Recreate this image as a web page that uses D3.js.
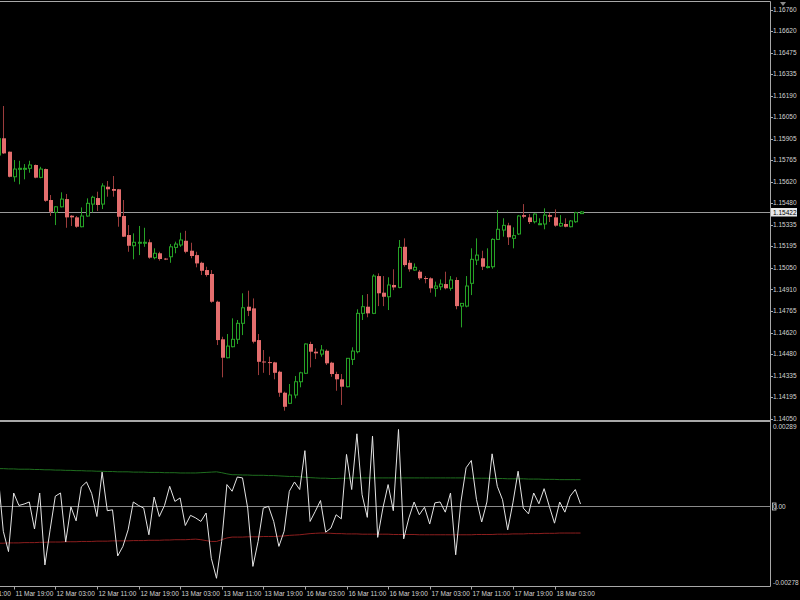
<!DOCTYPE html>
<html><head><meta charset="utf-8">
<script src="https://cdn.jsdelivr.net/npm/d3@7/dist/d3.min.js"></script>
<style>html,body{margin:0;padding:0;background:#000;overflow:hidden}</style>
</head><body>
<svg id="c" width="800" height="600"></svg>
<script>
// Bars: H1, first bar = 11 Mar 16:00 (index -1), last = 18 Mar 08:00 (index 111)
const firstBarIndex = -1;
const open = [1.15799,1.15910,1.15821,1.15655,1.15704,1.15709,1.15711,1.15733,1.15651,1.15706,1.15501,1.15419,1.15456,1.15507,1.15397,1.15386,1.15324,1.15395,1.15474,1.15514,1.15474,1.15589,1.15574,1.15572,1.15395,1.15269,1.15198,1.15219,1.15219,1.15221,1.15119,1.15148,1.15113,1.15125,1.15187,1.15203,1.15231,1.15165,1.15136,1.15085,1.15037,1.15011,1.14827,1.14578,1.14456,1.14529,1.14578,1.14684,1.14794,1.14783,1.14573,1.14431,1.14427,1.14425,1.14363,1.14224,1.14154,1.14209,1.14297,1.14353,1.14547,1.14496,1.14480,1.14502,1.14423,1.14348,1.14313,1.14264,1.14445,1.14496,1.14750,1.14794,1.14750,1.14997,1.14887,1.14860,1.14938,1.14922,1.15191,1.15085,1.15037,1.15026,1.14984,1.14982,1.14916,1.14926,1.14944,1.14916,1.14971,1.14798,1.14798,1.14949,1.15103,1.15115,1.15057,1.15059,1.15240,1.15302,1.15333,1.15247,1.15276,1.15401,1.15386,1.15357,1.15340,1.15342,1.15401,1.15386,1.15329,1.15342,1.15324,1.15357,1.15411];
const high = [1.15931,1.16124,1.15822,1.15766,1.15761,1.15739,1.15761,1.15736,1.15721,1.15709,1.15534,1.15461,1.15552,1.15541,1.15401,1.15395,1.15452,1.15512,1.15529,1.15556,1.15612,1.15627,1.15660,1.15574,1.15501,1.15335,1.15280,1.15329,1.15317,1.15240,1.15181,1.15158,1.15117,1.15209,1.15225,1.15284,1.15297,1.15218,1.15158,1.15092,1.15059,1.15037,1.14834,1.14595,1.14613,1.14717,1.14706,1.14883,1.14900,1.14849,1.14613,1.14507,1.14463,1.14429,1.14370,1.14231,1.14282,1.14335,1.14363,1.14551,1.14562,1.14518,1.14540,1.14511,1.14429,1.14363,1.14348,1.14454,1.14525,1.14777,1.14871,1.14878,1.15009,1.15015,1.14997,1.14989,1.15042,1.15236,1.15247,1.15103,1.15081,1.15037,1.14997,1.14989,1.14960,1.14975,1.15026,1.14997,1.14989,1.14818,1.14997,1.15181,1.15247,1.15165,1.15181,1.15247,1.15435,1.15380,1.15350,1.15320,1.15401,1.15474,1.15408,1.15413,1.15380,1.15446,1.15417,1.15439,1.15401,1.15380,1.15368,1.15423,1.15428];
const low = [1.15786,1.15806,1.15651,1.15622,1.15605,1.15638,1.15682,1.15645,1.15645,1.15489,1.15395,1.15335,1.15452,1.15317,1.15329,1.15317,1.15320,1.15390,1.15419,1.15428,1.15441,1.15523,1.15523,1.15324,1.15256,1.15158,1.15108,1.15136,1.15191,1.15112,1.15108,1.15099,1.15103,1.15085,1.15148,1.15191,1.15148,1.15115,1.15055,1.15004,1.14993,1.14820,1.14540,1.14326,1.14452,1.14525,1.14547,1.14606,1.14732,1.14551,1.14341,1.14356,1.14341,1.14313,1.14197,1.14105,1.14149,1.14187,1.14260,1.14348,1.14392,1.14447,1.14463,1.14408,1.14330,1.14237,1.14143,1.14260,1.14408,1.14485,1.14706,1.14724,1.14745,1.14798,1.14798,1.14772,1.14904,1.14916,1.15059,1.15026,1.15032,1.14971,1.14949,1.14887,1.14860,1.14904,1.14909,1.14900,1.14777,1.14657,1.14790,1.14871,1.15070,1.15037,1.15048,1.15046,1.15236,1.15258,1.15203,1.15181,1.15269,1.15380,1.15342,1.15346,1.15335,1.15307,1.15355,1.15324,1.15324,1.15320,1.15320,1.15350,1.15408];
const close = [1.15908,1.15810,1.15655,1.15706,1.15711,1.15711,1.15733,1.15649,1.15706,1.15496,1.15423,1.15456,1.15507,1.15386,1.15386,1.15324,1.15395,1.15479,1.15519,1.15468,1.15594,1.15572,1.15562,1.15390,1.15258,1.15198,1.15221,1.15221,1.15221,1.15119,1.15148,1.15110,1.15110,1.15191,1.15209,1.15236,1.15158,1.15130,1.15081,1.15032,1.15004,1.14827,1.14573,1.14456,1.14533,1.14578,1.14684,1.14787,1.14767,1.14562,1.14429,1.14429,1.14426,1.14356,1.14224,1.14131,1.14209,1.14297,1.14356,1.14547,1.14496,1.14485,1.14507,1.14419,1.14348,1.14313,1.14264,1.14452,1.14500,1.14750,1.14794,1.14750,1.14997,1.14883,1.14860,1.14938,1.14922,1.15187,1.15070,1.15042,1.15055,1.14982,1.14981,1.14916,1.14931,1.14944,1.14916,1.14971,1.14798,1.14816,1.14931,1.15108,1.15136,1.15059,1.15060,1.15240,1.15307,1.15333,1.15254,1.15265,1.15395,1.15390,1.15355,1.15408,1.15344,1.15401,1.15390,1.15331,1.15346,1.15324,1.15362,1.15417,1.15422];
// Indicator (white line) per bar
const momentum = [0.00109,-0.00086,-0.00156,0.00046,0.00003,0.00008,0.00015,-0.00078,0.00046,-0.00202,-0.00081,0.00035,0.00046,-0.00123,-0.00002,-0.00050,0.00067,0.00084,0.00044,-0.00035,0.00118,-0.00015,-0.00012,-0.00171,-0.00138,-0.00081,0.00015,0.00003,-0.00006,-0.00098,0.00032,-0.00035,0.00003,0.00069,0.00017,0.00029,-0.00066,-0.00031,-0.00040,-0.00052,-0.00023,-0.00179,-0.00248,-0.00121,0.00075,0.00052,0.00101,0.00098,-0.00006,-0.00207,-0.00121,-0.00006,0.00000,-0.00052,-0.00138,-0.00086,0.00052,0.00084,0.00058,0.00192,-0.00052,-0.00017,0.00020,-0.00089,-0.00075,-0.00029,-0.00043,0.00179,0.00058,0.00250,0.00040,-0.00038,0.00242,-0.00107,-0.00006,0.00075,-0.00015,0.00265,-0.00112,-0.00040,0.00015,-0.00029,-0.00003,-0.00061,0.00012,0.00015,-0.00020,0.00046,-0.00167,0.00015,0.00133,0.00158,0.00023,-0.00054,0.00015,0.00181,0.00069,0.00023,-0.00081,0.00012,0.00121,-0.00006,-0.00026,0.00046,0.00009,0.00061,0.00000,-0.00058,0.00015,-0.00020,0.00035,0.00058,0.00008];
const upperBand = [0.00130,0.00130,0.00129,0.00129,0.00128,0.00128,0.00128,0.00127,0.00127,0.00126,0.00126,0.00125,0.00125,0.00124,0.00124,0.00123,0.00123,0.00122,0.00122,0.00121,0.00121,0.00120,0.00120,0.00119,0.00119,0.00119,0.00118,0.00118,0.00118,0.00117,0.00117,0.00117,0.00116,0.00116,0.00116,0.00115,0.00115,0.00115,0.00115,0.00116,0.00117,0.00118,0.00119,0.00116,0.00112,0.00109,0.00109,0.00108,0.00108,0.00107,0.00107,0.00107,0.00106,0.00106,0.00105,0.00104,0.00103,0.00103,0.00102,0.00100,0.00099,0.00098,0.00097,0.00097,0.00096,0.00096,0.00097,0.00097,0.00098,0.00098,0.00098,0.00098,0.00098,0.00098,0.00098,0.00098,0.00098,0.00098,0.00098,0.00098,0.00098,0.00098,0.00098,0.00098,0.00098,0.00098,0.00098,0.00098,0.00098,0.00098,0.00098,0.00097,0.00097,0.00097,0.00097,0.00096,0.00096,0.00096,0.00095,0.00095,0.00095,0.00095,0.00094,0.00094,0.00094,0.00093,0.00093,0.00093,0.00092,0.00092,0.00092,0.00092,0.00092];
const lowerBand = [-0.00127,-0.00127,-0.00126,-0.00126,-0.00126,-0.00125,-0.00125,-0.00125,-0.00124,-0.00124,-0.00123,-0.00123,-0.00123,-0.00122,-0.00122,-0.00122,-0.00121,-0.00121,-0.00121,-0.00120,-0.00120,-0.00120,-0.00119,-0.00119,-0.00119,-0.00119,-0.00118,-0.00118,-0.00118,-0.00117,-0.00117,-0.00117,-0.00116,-0.00116,-0.00115,-0.00115,-0.00115,-0.00114,-0.00113,-0.00115,-0.00118,-0.00121,-0.00121,-0.00115,-0.00109,-0.00106,-0.00106,-0.00106,-0.00105,-0.00105,-0.00105,-0.00104,-0.00104,-0.00104,-0.00103,-0.00102,-0.00100,-0.00099,-0.00098,-0.00096,-0.00094,-0.00093,-0.00092,-0.00092,-0.00093,-0.00094,-0.00094,-0.00095,-0.00095,-0.00095,-0.00096,-0.00096,-0.00096,-0.00096,-0.00096,-0.00096,-0.00097,-0.00097,-0.00097,-0.00097,-0.00097,-0.00098,-0.00098,-0.00098,-0.00098,-0.00098,-0.00098,-0.00098,-0.00098,-0.00098,-0.00098,-0.00098,-0.00097,-0.00097,-0.00097,-0.00097,-0.00096,-0.00096,-0.00096,-0.00095,-0.00095,-0.00095,-0.00094,-0.00094,-0.00094,-0.00093,-0.00093,-0.00093,-0.00092,-0.00092,-0.00092,-0.00092,-0.00092];
const priceTicks = ["1.16760","1.16620","1.16475","1.16335","1.16190","1.16050","1.15905","1.15765","1.15620","1.15480","1.15335","1.15195","1.15050","1.14910","1.14765","1.14620","1.14480","1.14335","1.14195","1.14050"];
const timeLabels = ["11 Mar 11:00","11 Mar 19:00","12 Mar 03:00","12 Mar 11:00","12 Mar 19:00","13 Mar 03:00","13 Mar 11:00","13 Mar 19:00","16 Mar 03:00","16 Mar 11:00","16 Mar 19:00","17 Mar 03:00","17 Mar 11:00","17 Mar 19:00","18 Mar 03:00"];
const firstTimeLabelBar = -6, barsPerTimeLabel = 8;
const currentPrice = 1.15422;
const indTicks = [0.00289, 0.00, -0.00278];
const indTickLabels = ["0.00289", "0.00", "-0.00278"];

const svg = d3.select("#c");
const W = 770.5;
const mainTop = 1.5, mainBot = 420.5, indTop = 421.5, indBot = 586.5;
const x = d3.scaleLinear().domain([0, 111]).range([3.3, 580.5]);
const y = d3.scaleLinear().domain([1.14050, 1.16760]).range([419, 10]);
const yi = d3.scaleLinear().domain([-0.00278, 0.00289]).range([587, 422.5]);
const font = "'Liberation Sans', Arial, sans-serif";
const txt = "#d4d4d4";

const bars = open.map((o, k) => ({i: k + firstBarIndex, o, h: high[k], l: low[k], c: close[k], m: momentum[k], up: upperBand[k], lo: lowerBand[k]}));

const defs = svg.append("defs");
defs.append("clipPath").attr("id", "cm").append("rect").attr("x", 0).attr("y", mainTop).attr("width", W).attr("height", mainBot - mainTop);
defs.append("clipPath").attr("id", "ci").append("rect").attr("x", 0).attr("y", indTop + 0.5).attr("width", W).attr("height", indBot - indTop - 0.5);

// current price line
const gm = svg.append("g").attr("clip-path", "url(#cm)");
const cpY = Math.round(y(currentPrice)) + 0.5;
gm.append("line").attr("x1", 0).attr("x2", W).attr("y1", cpY).attr("y2", cpY).attr("stroke", "#9a9a9a").attr("stroke-width", 1);

// candles
const bullC = "#26a226", bearBody = "#e36d6d", bearWick = "#9c3c3c";
bars.forEach(b => {
  const cx = Math.round(x(b.i));
  const bull = b.c >= b.o;
  gm.append("line").attr("x1", cx + 0.5).attr("x2", cx + 0.5).attr("y1", y(b.h)).attr("y2", y(b.l))
    .attr("stroke", bull ? bullC : bearWick).attr("stroke-width", 1);
  const top = y(Math.max(b.o, b.c)), bot = y(Math.min(b.o, b.c));
  const hgt = Math.max(1, bot - top);
  if (bull) {
    gm.append("rect").attr("x", cx - 0.5).attr("y", top).attr("width", 3).attr("height", hgt)
      .attr("fill", "#000").attr("stroke", bullC).attr("stroke-width", 1);
  } else {
    gm.append("rect").attr("x", cx - 1).attr("y", top).attr("width", 4).attr("height", hgt).attr("fill", bearBody);
  }
});

// indicator
const gi = svg.append("g").attr("clip-path", "url(#ci)");
const zy = Math.round(yi(0)) + 0.5;
gi.append("line").attr("x1", 0).attr("x2", W).attr("y1", zy).attr("y2", zy).attr("stroke", "#8a8a8a");
const ln = key => d3.line().x(d => x(d.i)).y(d => yi(d[key]));
gi.append("path").datum(bars).attr("d", ln("up")).attr("fill", "none").attr("stroke", "#1f6e1f").attr("stroke-width", 1);
gi.append("path").datum(bars).attr("d", ln("lo")).attr("fill", "none").attr("stroke", "#8c1e1e").attr("stroke-width", 1);
gi.append("path").datum(bars).attr("d", ln("m")).attr("fill", "none").attr("stroke", "#e4e4e4").attr("stroke-width", 1);

// frames
const fr = "#a8a8a8";
svg.append("line").attr("x1", 0).attr("x2", W).attr("y1", mainTop).attr("y2", mainTop).attr("stroke", fr);
svg.append("line").attr("x1", 0).attr("x2", W).attr("y1", mainBot).attr("y2", mainBot).attr("stroke", fr);
svg.append("line").attr("x1", 0).attr("x2", W).attr("y1", indTop).attr("y2", indTop).attr("stroke", fr);
svg.append("line").attr("x1", 0).attr("x2", W).attr("y1", indBot).attr("y2", indBot).attr("stroke", fr);
svg.append("line").attr("x1", W).attr("x2", W).attr("y1", mainTop).attr("y2", indBot).attr("stroke", fr);

// chart shift marker
svg.append("path").attr("d", "M780,2 L786,2 L783,6 Z").attr("fill", "#8a8a8a");

// price axis
priceTicks.forEach(t => {
  const ty = y(+t);
  svg.append("line").attr("x1", W).attr("x2", W + 2.5).attr("y1", Math.round(ty) + 0.5).attr("y2", Math.round(ty) + 0.5).attr("stroke", fr);
  svg.append("text").attr("x", 773).attr("y", ty + 2.3).attr("font-family", font).attr("font-size", "6.5px").attr("fill", txt).text(t);
});
// current price box
svg.append("rect").attr("x", 771.5).attr("y", cpY - 4).attr("width", 25).attr("height", 7.5).attr("fill", "#e8e8e8").attr("stroke", "#e8e8e8");
svg.append("text").attr("x", 773).attr("y", cpY + 2.3).attr("font-family", font).attr("font-size", "6.5px").attr("fill", "#000").text(d3.format(".5f")(currentPrice));

// indicator axis
indTicks.forEach((v, k) => {
  let ty = yi(v);
  if (k === 0) ty = indTop + 5.2;
  if (k === 2) ty = indBot - 3.8;
  svg.append("text").attr("x", 773).attr("y", ty + 2.3).attr("font-family", font).attr("font-size", "6.5px").attr("fill", txt).text(indTickLabels[k]);
});
svg.append("rect").attr("x", 772.5).attr("y", zy - 3.5).attr("width", 3.5).attr("height", 7).attr("fill", "none").attr("stroke", "#cfcfcf").attr("stroke-width", 0.8);

// time axis
timeLabels.forEach((t, k) => {
  const tx = Math.round(x(firstTimeLabelBar + k * barsPerTimeLabel)) + 0.5;
  svg.append("line").attr("x1", tx).attr("x2", tx).attr("y1", indBot).attr("y2", indBot + 3).attr("stroke", fr);
  svg.append("text").attr("x", tx + 1).attr("y", 596).attr("font-family", font).attr("font-size", "6.5px").attr("fill", txt).text(t);
});
</script>
</body></html>
